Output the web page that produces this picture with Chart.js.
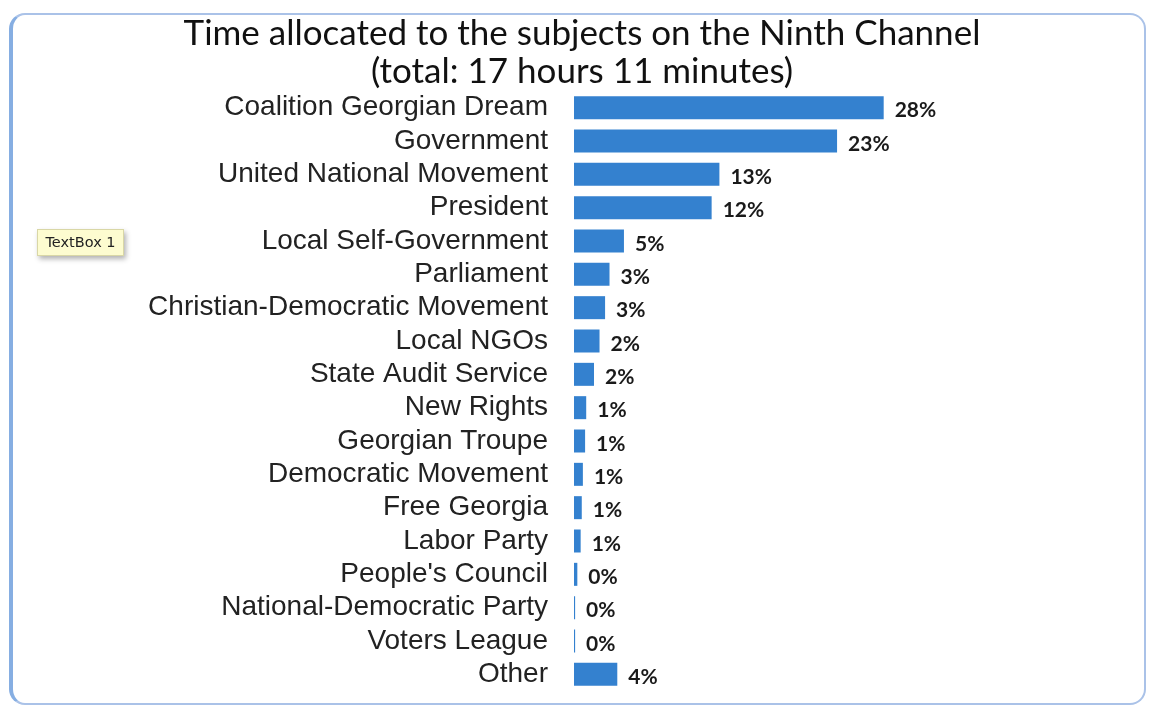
<!DOCTYPE html>
<html>
<head>
<meta charset="utf-8">
<script src="https://cdn.jsdelivr.net/npm/chart.js@4/dist/chart.umd.min.js"></script>
<style>
  html, body { margin: 0; padding: 0; background: #ffffff; }
  #wrap { position: relative; width: 1149px; height: 708px; overflow: hidden; background: #fff; }
  #frame { position: absolute; left: 9px; top: 13px; width: 1131px; height: 688px;
           border: 2px solid #aac2e8; border-left: 4px solid #86aee2; border-radius: 16px;
           background: #fff; }
  #cv { position: absolute; left: 0; top: 0; }
  #tb { position: absolute; left: 37px; top: 229px; width: 85px; height: 25px;
        background: #fdfcd0; border: 1px solid #d9d7a6; box-shadow: 2px 3px 5px rgba(0,0,0,0.3);
        font-family: "DejaVu Sans", sans-serif; font-size: 14.5px; color: #222; line-height: 25px;
        text-align: center; white-space: nowrap; }
</style>
</head>
<body>
<div id="wrap">
  <div id="frame"></div>
  <canvas id="cv" width="1149" height="708"></canvas>
  <div id="tb">TextBox 1</div>
</div>
<script>
const titleLines = ["Time allocated to the subjects on the Ninth Channel", "(total: 17 hours 11 minutes)"];
const categories = [
  "Coalition Georgian Dream", "Government", "United National Movement", "President",
  "Local Self-Government", "Parliament", "Christian-Democratic Movement", "Local NGOs",
  "State Audit Service", "New Rights", "Georgian Troupe", "Democratic Movement",
  "Free Georgia", "Labor Party", "People's Council", "National-Democratic Party",
  "Voters League", "Other"
];
const shares = [27.9, 23.7, 13.1, 12.4, 4.5, 3.2, 2.8, 2.3, 1.8, 1.1, 1.0, 0.8, 0.7, 0.6, 0.3, 0.1, 0.1, 3.9];
const shareLabels = ["28%", "23%", "13%", "12%", "5%", "3%", "3%", "2%", "2%", "1%", "1%", "1%", "1%", "1%", "0%", "0%", "0%", "4%"];

const valueLabelPlugin = {
  id: 'valueLabels',
  afterDatasetsDraw(chart) {
    const ctx = chart.ctx;
    const meta = chart.getDatasetMeta(0);
    ctx.save();
    ctx.font = 'bold 21px Lato, "Open Sans", sans-serif';
    ctx.fillStyle = '#1a1a1a';
    ctx.textAlign = 'left';
    ctx.textBaseline = 'middle';
    meta.data.forEach((bar, i) => {
      ctx.fillText(shareLabels[i], bar.x + 11, bar.y + 3);
    });
    ctx.restore();
  }
};

new Chart(document.getElementById('cv'), {
  type: 'bar',
  data: {
    labels: categories,
    datasets: [{
      data: shares,
      backgroundColor: '#3481cf',
      borderWidth: 0,
      barPercentage: 0.69,
      categoryPercentage: 1.0
    }]
  },
  options: {
    indexAxis: 'y',
    responsive: false,
    animation: false,
    layout: { padding: { left: 35, right: 20, top: 2, bottom: 17 } },
    plugins: {
      legend: { display: false },
      tooltip: { enabled: false },
      title: {
        display: true,
        text: titleLines,
        color: '#111',
        font: { family: 'Lato, "Open Sans", sans-serif', size: 35, weight: 'normal', lineHeight: 1.1 },
        padding: { top: 12, bottom: 0 }
      }
    },
    scales: {
      x: { display: false, min: 0, max: 50 },
      y: {
        grid: { display: false, drawTicks: false },
        border: { display: false },
        ticks: {
          autoSkip: false,
          color: '#222',
          padding: 26,
          font: { family: '"Liberation Sans", Arial, sans-serif', size: 28 }
        },
        afterFit(scale) {
          scale.width = 539;
          scale.paddingTop = 0;
          scale.paddingBottom = 0;
        }
      }
    }
  },
  plugins: [valueLabelPlugin]
});
</script>
</body>
</html>
